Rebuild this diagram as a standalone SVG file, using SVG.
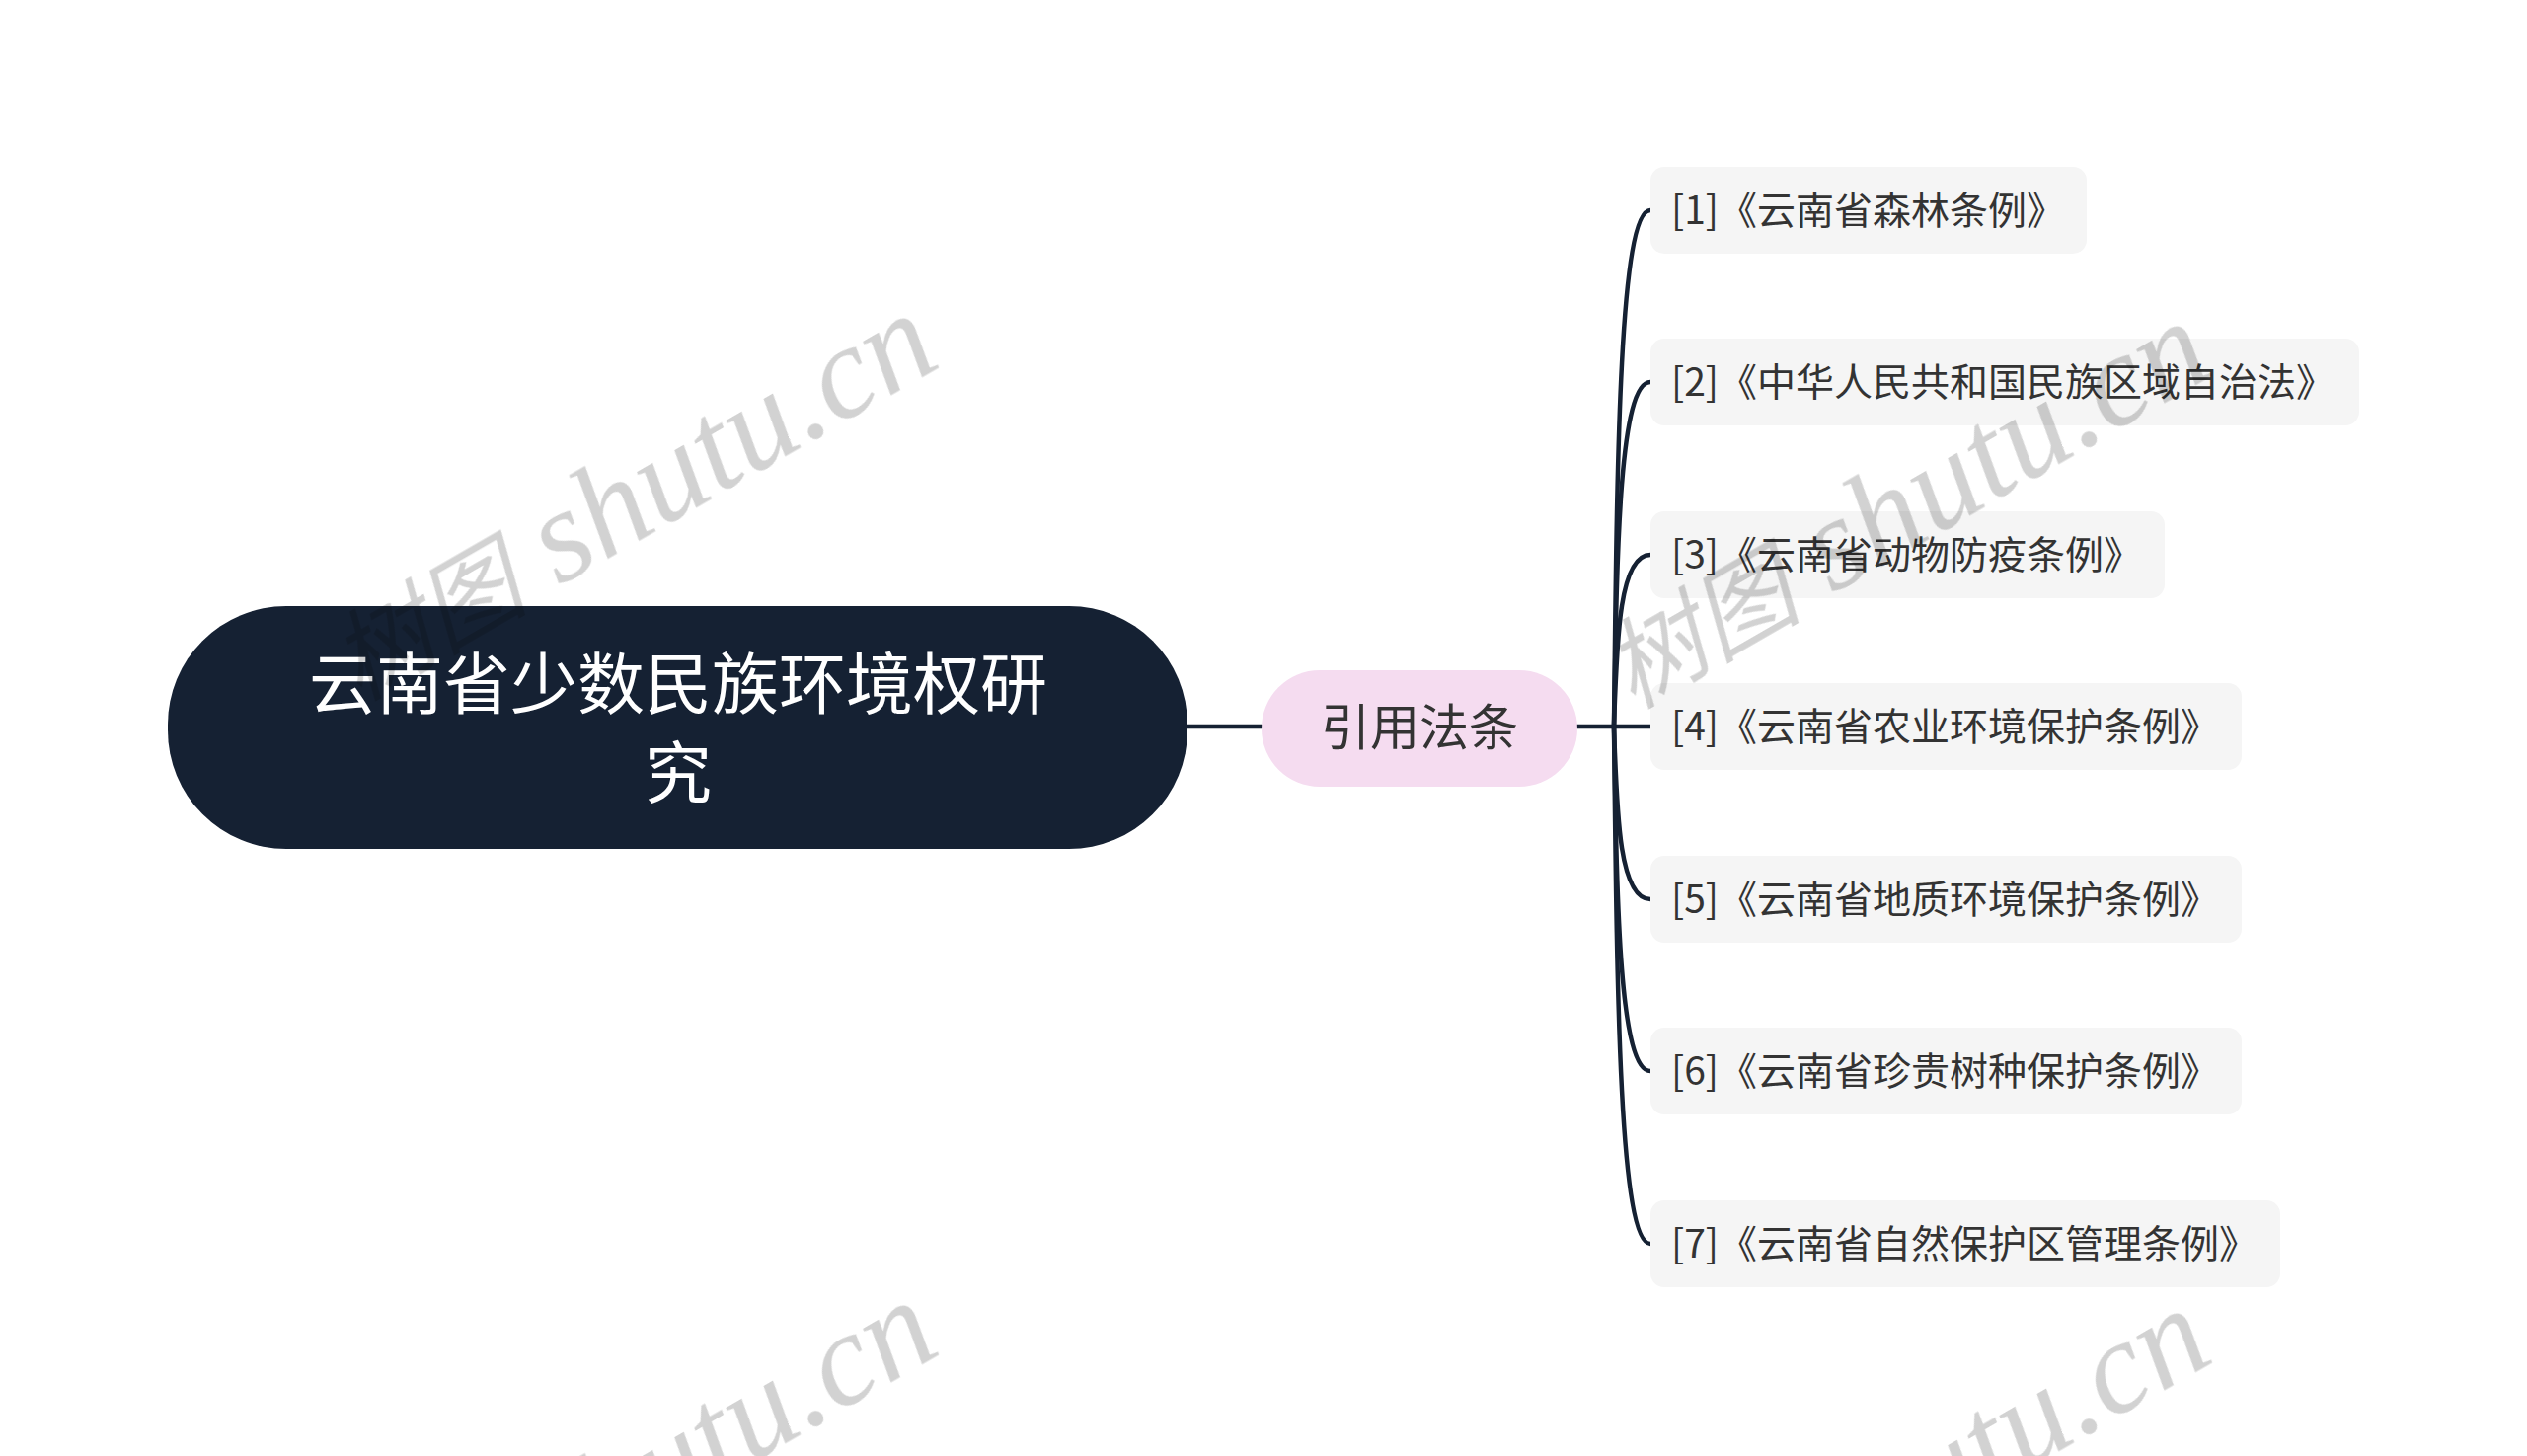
<svg xmlns="http://www.w3.org/2000/svg" width="2560" height="1475" viewBox="0 0 2560 1475">
<style>
.t{font-family:"Noto Sans CJK SC","Noto Sans",sans-serif;dominant-baseline:central}
.root-box{fill:#152133}
.root-t{fill:#ffffff;font-size:68px;text-anchor:middle}
.br-box{fill:#f5dcf0}
.br-t{fill:#333333;font-size:50px;text-anchor:middle}
.leaf-box{fill:#f5f5f5}
.leaf-t{fill:#333333;font-size:39px}
.conn{fill:none;stroke:#152133;stroke-width:4.5;stroke-linecap:round}
.wm{font-family:"Liberation Serif","Noto Sans CJK SC",serif;font-size:134px;fill:#d2d2d2;text-anchor:middle}
.wm-cjk{font-family:"Noto Sans CJK SC",serif;font-size:100px;font-style:italic}
.wm-lat{font-style:italic}
</style>
<rect width="2560" height="1475" fill="#ffffff"/>
<g id="connectors">
<path class="conn" d="M1203 736 H1278"/>
<path class="conn" d="M1597 736 H1672"/>
<path class="conn" d="M1635 736 C1638 474 1640 213 1672 213"/>
<path class="conn" d="M1635 736 C1638 562 1640 387 1672 387"/>
<path class="conn" d="M1635 736 C1638 649 1640 562 1672 562"/>
<path class="conn" d="M1635 736 C1638 823 1640 911 1672 911"/>
<path class="conn" d="M1635 736 C1638 911 1640 1085 1672 1085"/>
<path class="conn" d="M1635 736 C1638 998 1640 1260 1672 1260"/>
</g>
<g id="root">
<rect class="root-box" x="170" y="614" width="1033" height="246" rx="120"/>
<text class="t root-t" x="687" y="688">云南省少数民族环境权研</text>
<text class="t root-t" x="687" y="778">究</text>
</g>
<g id="branch">
<rect class="br-box" x="1278" y="679" width="320" height="118" rx="59"/>
<text class="t br-t" x="1438" y="733">引用法条</text>
</g>
<g id="leaf1">
<rect class="leaf-box" x="1672" y="169" width="442" height="88" rx="14"/>
<text class="t leaf-t" x="1693" y="210">[1]《云南省森林条例》</text>
</g>
<g id="leaf2">
<rect class="leaf-box" x="1672" y="343" width="718" height="88" rx="14"/>
<text class="t leaf-t" x="1693" y="384">[2]《中华人民共和国民族区域自治法》</text>
</g>
<g id="leaf3">
<rect class="leaf-box" x="1672" y="518" width="521" height="88" rx="14"/>
<text class="t leaf-t" x="1693" y="559">[3]《云南省动物防疫条例》</text>
</g>
<g id="leaf4">
<rect class="leaf-box" x="1672" y="692" width="599" height="88" rx="14"/>
<text class="t leaf-t" x="1693" y="733">[4]《云南省农业环境保护条例》</text>
</g>
<g id="leaf5">
<rect class="leaf-box" x="1672" y="867" width="599" height="88" rx="14"/>
<text class="t leaf-t" x="1693" y="908">[5]《云南省地质环境保护条例》</text>
</g>
<g id="leaf6">
<rect class="leaf-box" x="1672" y="1041" width="599" height="88" rx="14"/>
<text class="t leaf-t" x="1693" y="1082">[6]《云南省珍贵树种保护条例》</text>
</g>
<g id="leaf7">
<rect class="leaf-box" x="1672" y="1216" width="638" height="88" rx="14"/>
<text class="t leaf-t" x="1693" y="1257">[7]《云南省自然保护区管理条例》</text>
</g>
<g id="watermarks" style="mix-blend-mode:multiply">
<text class="wm" transform="translate(660 540) rotate(-30)"><tspan class="wm-cjk">树图</tspan> <tspan class="wm-lat">shutu.cn</tspan></text>
<text class="wm" transform="translate(1950 548) rotate(-30)"><tspan class="wm-cjk">树图</tspan> <tspan class="wm-lat">shutu.cn</tspan></text>
<text class="wm" transform="translate(660 1540) rotate(-30)"><tspan class="wm-cjk">树图</tspan> <tspan class="wm-lat">shutu.cn</tspan></text>
<text class="wm" transform="translate(1950 1548) rotate(-30)"><tspan class="wm-cjk">树图</tspan> <tspan class="wm-lat">shutu.cn</tspan></text>
</g>
</svg>
